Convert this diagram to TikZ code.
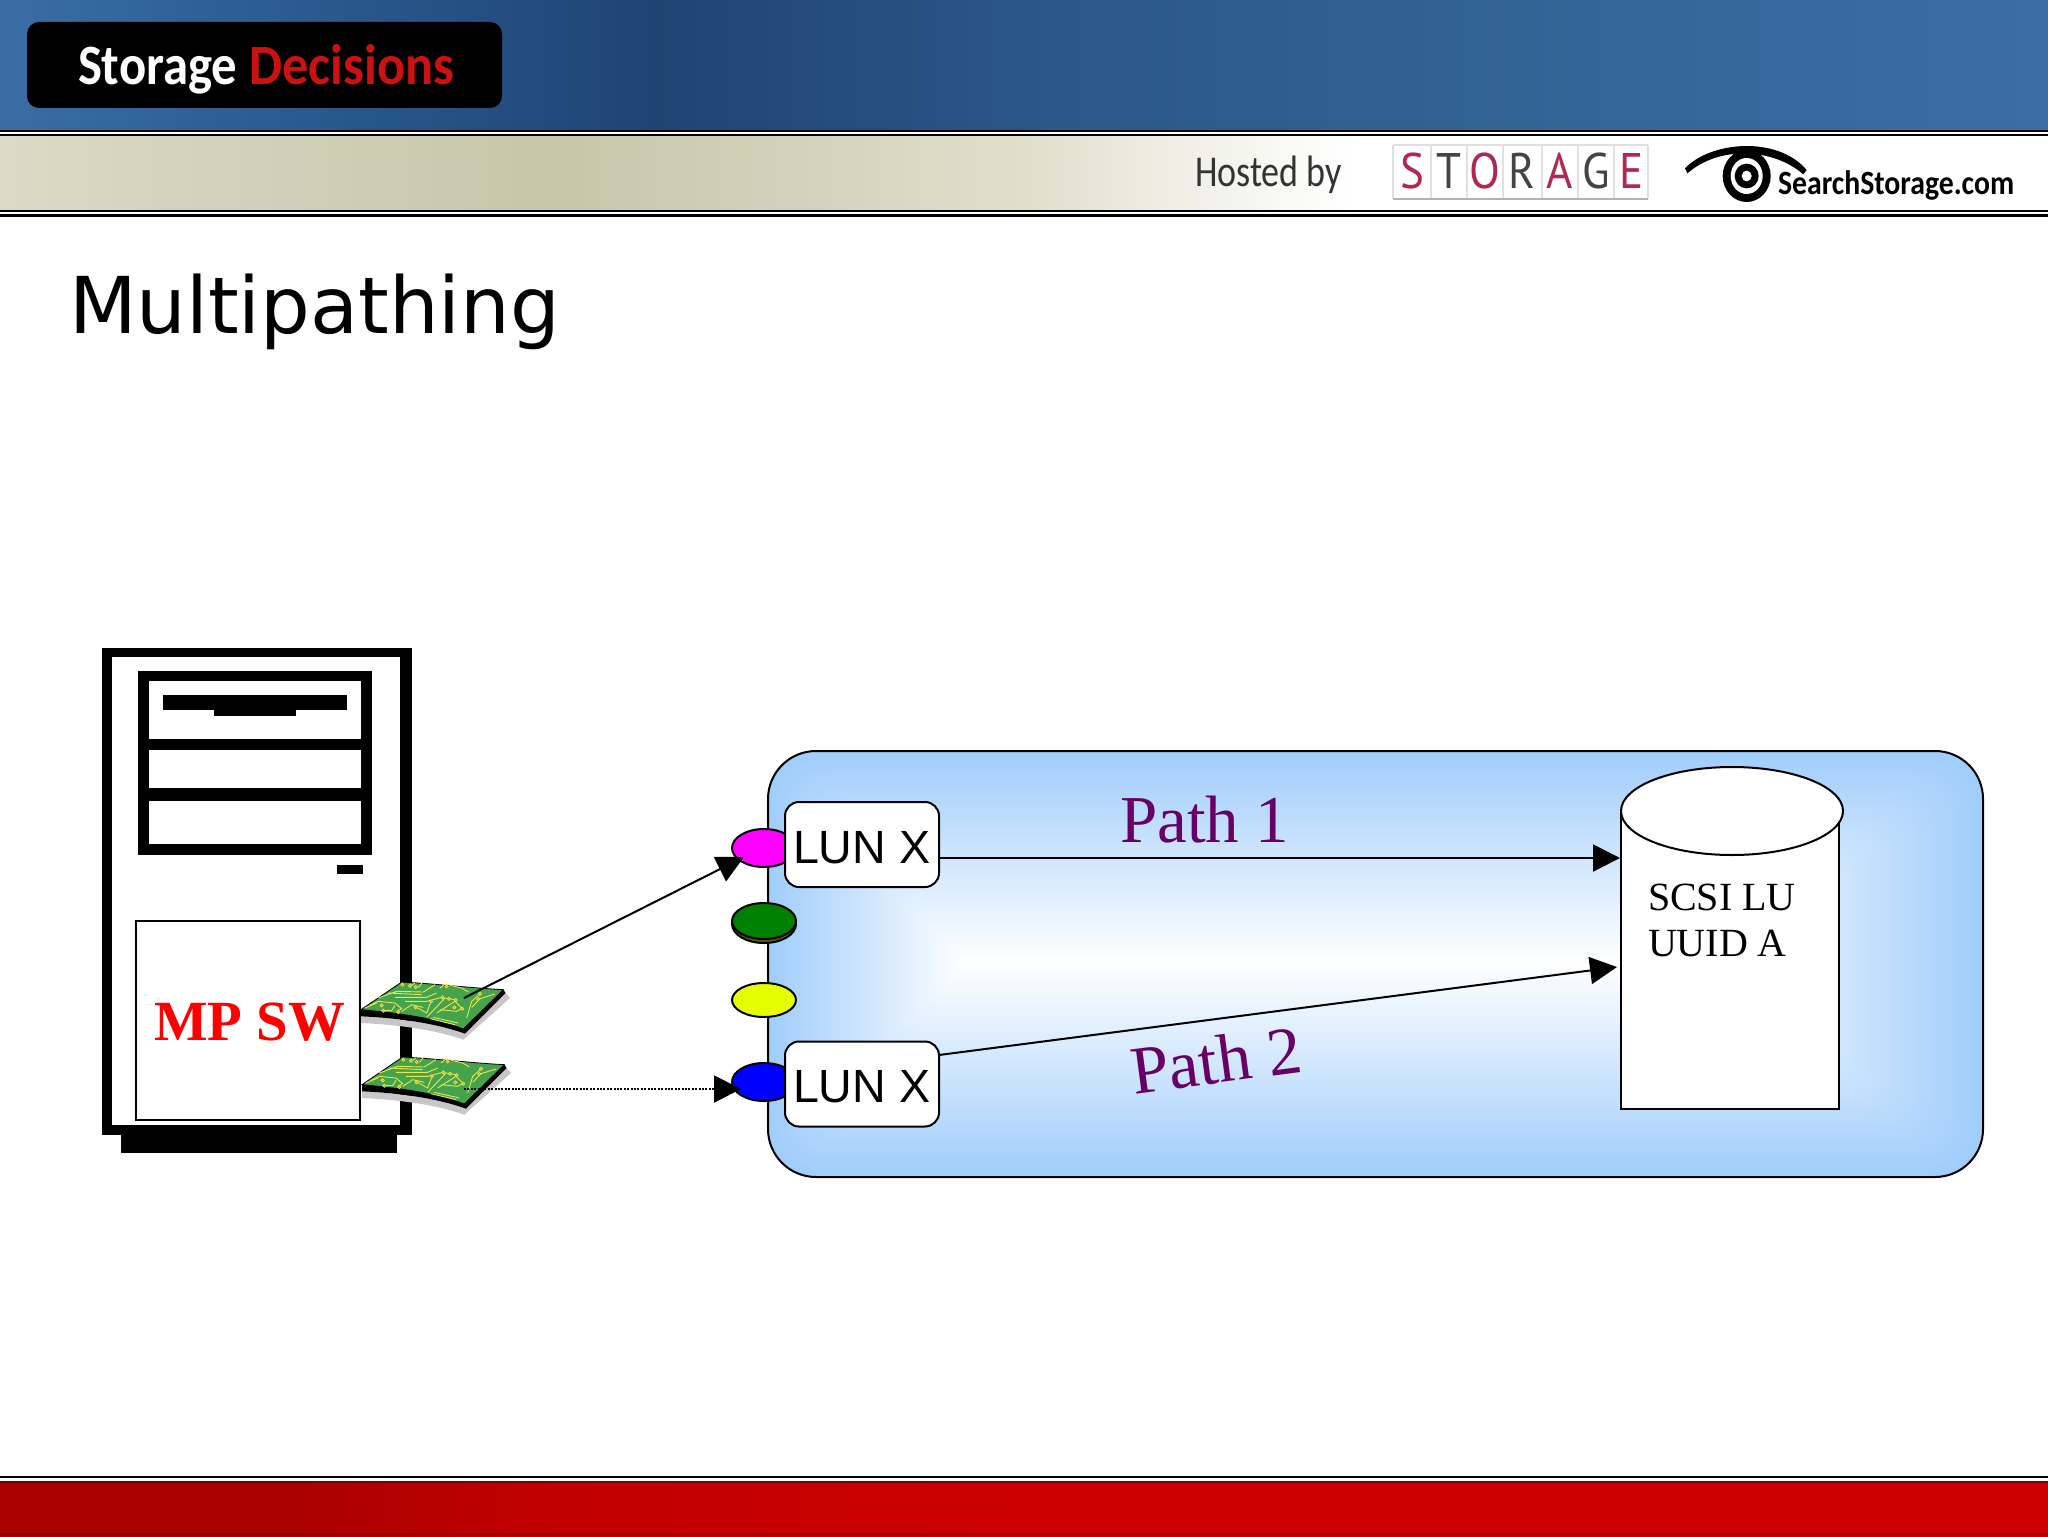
\documentclass[tikz,border=0pt]{standalone}
\usepackage{fontspec}
\usepackage{graphicx}
\usetikzlibrary{arrows.meta,shapes.geometric}
\newfontfamily\titlefont{DejaVu Sans}
\newfontfamily\serfont{Liberation Serif}
\newfontfamily\arialfont{Liberation Sans}
\newfontfamily\logofont{Carlito}
\newfontfamily\stfont{PT Sans}
\definecolor{bgblue}{HTML}{A0CDFB}
\definecolor{cA}{HTML}{3A6DA3}\definecolor{cB}{HTML}{33689E}\definecolor{cC}{HTML}{2A5A90}
\definecolor{cD}{HTML}{1F4474}\definecolor{cE}{HTML}{2B5688}\definecolor{cF}{HTML}{336496}\definecolor{cG}{HTML}{3A6EA5}
\definecolor{bA}{HTML}{DADAC6}\definecolor{bB}{HTML}{D0D0B8}\definecolor{bC}{HTML}{C6C6AA}
\definecolor{bD}{HTML}{DFDFCC}\definecolor{bE}{HTML}{F0F0E8}\definecolor{bF}{HTML}{FFFFFF}
\definecolor{rA}{HTML}{AA0000}\definecolor{rB}{HTML}{C00000}\definecolor{rC}{HTML}{CC0000}
\definecolor{pathpurple}{HTML}{660066}
\definecolor{stred}{HTML}{B0284F}
\definecolor{stdark}{HTML}{444444}
\definecolor{cardgreen}{HTML}{44A34C}
\definecolor{portgreen}{HTML}{008000}
\definecolor{portolive}{HTML}{5A5A00}
\definecolor{portyellow}{HTML}{E6FF00}
\definecolor{portmagenta}{HTML}{FF00FF}
\definecolor{portblue}{HTML}{0000FF}
\definecolor{mpred}{HTML}{FF0000}
\definecolor{logored}{HTML}{CC1111}
\definecolor{tracey}{HTML}{E8E850}
\definecolor{dotor}{HTML}{F0A020}
\pgfdeclarehorizontalshading{topband}{100bp}{color(0bp)=(cA);color(25bp)=(cA);color(27.4bp)=(cB);color(32.3bp)=(cC);color(41bp)=(cD);color(50bp)=(cE);color(62bp)=(cF);color(75bp)=(cG);color(100bp)=(cG)}
\pgfdeclarehorizontalshading{beigeband}{100bp}{color(0bp)=(bA);color(25bp)=(bA);color(32bp)=(bB);color(38.5bp)=(bC);color(50bp)=(bD);color(54bp)=(bE);color(58bp)=(bF);color(100bp)=(bF)}
\pgfdeclarehorizontalshading{redband}{100bp}{color(0bp)=(rA);color(25bp)=(rA);color(32bp)=(rA);color(38bp)=(rB);color(50bp)=(rC);color(100bp)=(rC)}
\tikzset{
  txt/.style={inner sep=0pt,outer sep=0pt,anchor=base west},
  portnode/.style={draw=black,line width=1pt,ellipse,inner sep=0pt,minimum width=32pt},
  lunbox/.style={draw=black,line width=1pt,fill=white,rounded corners=7pt,minimum width=77pt,minimum height=42.5pt,inner sep=0pt},
  luntext/.style={txt,font=\arialfont\fontsize{23.3}{23.3}\selectfont},
  conn/.style={draw=black,line width=1pt,-{Triangle[length=13.5pt,width=13.5pt]}},
  trace/.style={draw=tracey,line width=.45pt}
}
\newcommand{\cardart}{%
  \fill[black!22] (18,145) .. controls (130,150) and (240,165) .. (330,197) -- (452,75) -- (465,90) -- (325,215) .. controls (240,185) and (130,170) .. (18,165) -- cycle;
  \fill[black] (18,125) .. controls (130,135) and (240,150) .. (325,183) -- (445,65) -- (452,75) -- (330,197) .. controls (240,165) and (130,150) .. (18,145) -- cycle;
  \fill[cardgreen,draw=black,line width=.4pt] (18,125) -- (140,42) .. controls (250,48) and (350,60) .. (445,65) -- (325,183) .. controls (240,150) and (130,135) .. (18,125) -- cycle;
  \draw[trace]
    (70,90)--(125,70)--(205,72)--(240,50)
    (45,112)--(70,100)--(120,105)--(140,122)--(125,130)
    (30,120)--(65,105)
    (85,128)--(110,128)--(120,112)
    (140,130)--(170,110)--(205,118)
    (150,100)--(215,100)--(260,88)
    (185,118)--(215,135)--(228,100)
    (215,148)--(270,90)--(300,95)
    (235,148)--(310,165)
    (245,135)--(300,100)--(320,120)
    (255,125)--(305,130)--(320,122)
    (335,150)--(350,100)--(375,78)
    (350,118)--(375,92)--(420,78)
    (255,60)--(270,48)--(320,60)--(340,72)
    (180,45)--(165,55)
    (205,40)--(190,58)
    (100,75)--(200,80)
    (120,88)--(215,88)--(245,75)
    (225,152)--(300,170);
  \foreach \dx/\dy in {142/50,165/53,182/57,275/55,375/77,370/93,262/88,282/92,302/96,228/100,298/118,322/122,182/118,80/112,85/128,130/132}{
    \fill[dotor,draw=tracey,line width=.3pt] (\dx,\dy) circle[radius=5];}
}
\begin{document}
\begin{tikzpicture}[x=.5pt,y=-.5pt]
\useasboundingbox (0,0) rectangle (2048,1536);
\fill[white] (0,0) rectangle (2048,1536);
% header
\shade[shading=topband] (0,0) rectangle (2048,130);
\fill[black] (0,130) rectangle (2048,132);
\fill[black] (0,134) rectangle (2048,136);
\shade[shading=beigeband] (0,136) rectangle (2048,210);
\fill[black] (0,210) rectangle (2048,212);
\fill[black] (0,214) rectangle (2048,217);
% logo
\fill[black,rounded corners=6pt] (27,22) rectangle (502,108);
\node[txt,text=white] (logoa) at (78,84) {\scalebox{.89}[1]{\logofont\bfseries\fontsize{28.5}{28.5}\selectfont Storage}};
\node[txt,text=logored] (logob) at (249,84) {\scalebox{.92}[1]{\logofont\bfseries\fontsize{28.5}{28.5}\selectfont Decisions}};
% hosted by
\node[txt,text=black!80] (hosted) at (1195,186) {\scalebox{.82}[1]{\logofont\fontsize{22}{22}\selectfont Hosted by}};
\foreach \x in {1393,1431,1467,1503,1542,1578,1614,1648}{\draw[black!12,line width=.6pt] (\x,145) -- (\x,199);}
\draw[black!12,line width=.6pt] (1393,145) -- (1648,145);
\draw[black!30,line width=.6pt] (1393,199) -- (1648,199);
\foreach \l/\x/\c [count=\n] in {S/1412/stred,T/1449/stdark,O/1485/stred,R/1522/stdark,A/1560/stred,G/1596/stdark,E/1632/stred}{
  \node[inner sep=0pt,anchor=base,text=\c] (st\n) at (\x,188) {\scalebox{.9}[1]{\stfont\fontsize{25}{25}\selectfont \l}};}
% eye
\begin{scope}[shift={(1670,135)},scale=1/3]
  \fill[black] (45,100) .. controls (120,20) and (320,0) .. (410,105) -- (400,118) .. controls (310,40) and (150,30) .. (52,115) -- cycle;
  \fill[black] (230,123) ellipse[x radius=72,y radius=78];
  \fill[white] (230,123) ellipse[x radius=48,y radius=54];
  \fill[black] (230,123) ellipse[x radius=36,y radius=37];
  \fill[white] (230,123) ellipse[x radius=15,y radius=16];
\end{scope}
\node[txt] (search) at (1778,194) {\scalebox{.875}[1]{\logofont\bfseries\fontsize{17}{17}\selectfont SearchStorage.com}};
% footer
\fill[black] (0,1476) rectangle (2048,1478);
\shade[shading=redband] (0,1481) rectangle (2048,1536);
\fill[red!40!black,opacity=.7] (0,1481) rectangle (2048,1483);
\fill[red!40!black,opacity=.35] (0,1533) rectangle (2048,1536);
% title
\node[txt] (title) at (69,333) {\titlefont\fontsize{39.2}{39.2}\selectfont Multipathing};
% server
\fill[black] (121,1125) rectangle (397,1153);
\fill[black] (102,648) rectangle (412,1135);
\fill[white] (112,657) rectangle (400,1125);
\fill[black] (138,671) rectangle (372,855);
\fill[white] (149,681) rectangle (361,739);
\fill[white] (149,750) rectangle (361,788);
\fill[white] (149,801) rectangle (361,844);
\fill[black] (163,695) rectangle (347,710);
\fill[black] (214,710) rectangle (296,716);
\fill[black] (337,865) rectangle (363,874);
% cards
\begin{scope}[shift={(355,968)},scale=1/3]\cardart\end{scope}
\begin{scope}[shift={(356,1043)},scale=1/3]\cardart\end{scope}
% MP SW box
\node[draw=black,line width=.6pt,fill=white,inner sep=0pt,minimum width=112pt,minimum height=99.5pt] (mpbox) at (248,1020.5) {};
\node[txt,text=mpred] (mptext) at (154,1040) {\serfont\bfseries\fontsize{28.4}{28.4}\selectfont MP SW};
% storage enclosure
\foreach \i in {0,...,79}{
  \pgfmathsetmacro{\t}{\i/80}
  \pgfmathsetmacro{\xa}{768+\t*(965-768)}
  \pgfmathsetmacro{\ya}{751+\t*(963-751)}
  \pgfmathsetmacro{\xb}{1983-\t*(1983-1700)}
  \pgfmathsetmacro{\yb}{1177-\t*(1177-963)}
  \pgfmathsetmacro{\pc}{100*(1-\t)}
  \pgfmathsetmacro{\rr}{24*(1-\t)+0.01}
  \fill[bgblue!\pc!white,rounded corners=\rr pt] (\xa,\ya) rectangle (\xb,\yb);
}
\draw[black,line width=1pt,rounded corners=24pt] (768,751) rectangle (1983,1177);
% ports
\node[portnode,fill=portmagenta,minimum height=19pt] (pm) at (764,848) {};
\node[portnode,fill=portolive,minimum height=19pt] (pgs) at (764,924) {};
\node[portnode,fill=portgreen,minimum height=18pt] (pg) at (764,921) {};
\node[portnode,fill=portyellow,minimum height=17pt] (py) at (764,1000) {};
\node[portnode,fill=portblue,minimum height=19pt] (pb) at (764,1082) {};
% LUN boxes
\node[lunbox] (lun1) at (862,844.5) {};
\node[lunbox] (lun2) at (862,1084) {};
\node[luntext] (lun1t) at (793,863) {LUN X};
\node[luntext] (lun2t) at (793,1102) {LUN X};
% cylinder
\draw[black,line width=1pt,fill=white] (1621,811) -- (1621,1109) -- (1839,1109) -- (1839,811) -- cycle;
\draw[black,line width=1pt,fill=white] (1732,811) ellipse[x radius=111,y radius=44];
\node[txt] (scsi) at (1648,910) {\serfont\fontsize{20}{20}\selectfont SCSI LU};
\node[txt] (uuid) at (1648,956) {\serfont\fontsize{20}{20}\selectfont UUID A};
% connector end points
\coordinate (c1s) at (464,998);
\coordinate (c2s) at (464,1089);
\coordinate (pmtip) at (744,857);
\coordinate (pbtip) at (741,1089);
\coordinate (l1s) at (939,858);
\coordinate (l2s) at (939,1055);
\coordinate (cyl1) at (1620,858);
\coordinate (cyl2) at (1617,967);
\draw[conn] (c1s) -- (pmtip);
\draw[conn,dash pattern=on 1pt off .7pt] (c2s) -- (pbtip);
\draw[conn] (l1s) -- (cyl1);
\draw[conn] (l2s) -- (cyl2);
% path labels
\node[txt,text=pathpurple] (p1) at (1120,842) {\serfont\fontsize{33.5}{33.5}\selectfont Path 1};
\node[txt,text=pathpurple,rotate=7.5] (p2) at (1134,1094) {\serfont\fontsize{34}{34}\selectfont Path 2};
\end{tikzpicture}
\end{document}
